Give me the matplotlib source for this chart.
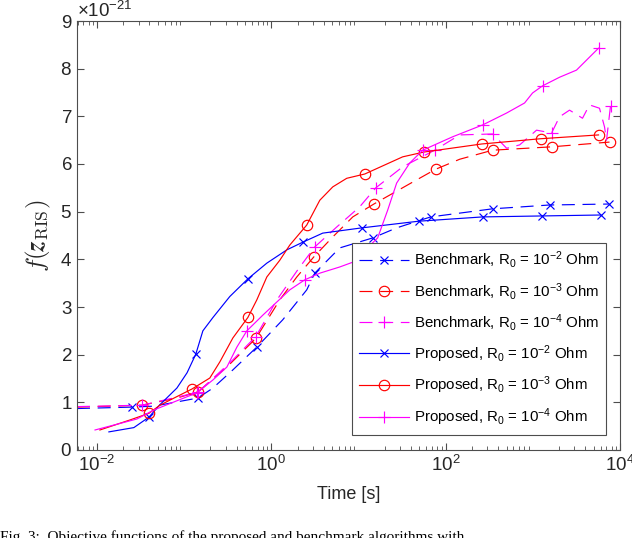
import matplotlib
matplotlib.use("Agg")
import matplotlib.pyplot as plt
import numpy as np

plt.rcParams['font.family'] = ['Liberation Sans', 'DejaVu Sans']
plt.rcParams['mathtext.fontset'] = 'custom'
plt.rcParams['mathtext.rm'] = 'Liberation Sans'
plt.rcParams['mathtext.it'] = 'Liberation Sans:italic'
plt.rcParams['mathtext.bf'] = 'Liberation Sans:bold'
plt.rcParams['axes.unicode_minus'] = False

SCALE = 1e-21

# ---- data (time in s, objective in units of 1e-21) ----
bench2_t = [0.0059, 0.0252, 0.045, 0.144, 0.214, 0.362, 0.682, 1.35, 2.55, 3.15, 6.10, 14.6, 27.4, 67.3, 346, 1556, 7383]
bench2_v = [0.87, 0.90, 0.92, 1.09, 1.30, 1.68, 2.16, 2.73, 3.36, 3.71, 4.24, 4.45, 4.66, 4.89, 5.06, 5.14, 5.16]
bench2_m = [1, 3, 6, 9, 11, 13, 14, 15, 16]

bench3_t = [0.0059, 0.0328, 0.0826, 0.144, 0.309, 0.664, 1.25, 1.96, 3.07, 5.07, 8.60, 15.0, 40.0, 76.8, 145, 346, 1641, 7580]
bench3_v = [0.90, 0.94, 1.09, 1.22, 1.74, 2.34, 3.15, 3.63, 4.05, 4.47, 4.89, 5.16, 5.60, 5.89, 6.10, 6.29, 6.36, 6.46]
bench3_m = [1, 3, 5, 8, 11, 13, 15, 16, 17]

bench4_t = [0.0059, 0.0328, 0.144, 0.362, 0.664, 1.16, 2.01, 3.15, 5.64, 10.3, 15.8, 32.1, 74.8, 145, 346, 501, 705, 1104, 1641, 2025, 2637, 3714, 4467, 5818, 6642, 7006, 7785]
bench4_v = [0.91, 0.94, 1.21, 1.89, 2.38, 3.15, 3.78, 4.26, 4.68, 5.10, 5.50, 5.94, 6.29, 6.61, 6.63, 6.33, 6.40, 6.71, 6.65, 6.99, 7.13, 6.96, 7.24, 7.17, 6.78, 6.50, 7.22]
bench4_m = [1, 2, 4, 7, 10, 12, 14, 18, 26]

prop2_t = [0.0137, 0.0265, 0.0395, 0.0527, 0.0826, 0.108, 0.136, 0.164, 0.214, 0.334, 0.538, 0.888, 1.51, 2.30, 3.89, 10.9, 49.1, 266, 1259, 5979]
prop2_v = [0.38, 0.47, 0.69, 0.95, 1.30, 1.62, 2.01, 2.50, 2.78, 3.22, 3.59, 3.92, 4.20, 4.36, 4.55, 4.66, 4.80, 4.89, 4.91, 4.93]
prop2_m = [2, 6, 10, 13, 15, 16, 17, 18, 19]

prop3_t = [0.0108, 0.0239, 0.0395, 0.0527, 0.123, 0.197, 0.257, 0.362, 0.538, 0.682, 0.888, 1.25, 1.63, 2.55, 3.60, 5.07, 7.33, 11.8, 32.1, 56.0, 259, 1227, 5672]
prop3_v = [0.42, 0.63, 0.77, 0.94, 1.28, 1.51, 1.85, 2.35, 2.78, 3.15, 3.63, 3.98, 4.30, 4.72, 5.24, 5.52, 5.70, 5.79, 6.15, 6.25, 6.42, 6.53, 6.61]
prop3_m = [2, 4, 8, 13, 17, 19, 20, 21, 22]

prop4_t = [0.0095, 0.0287, 0.045, 0.140, 0.214, 0.309, 0.403, 0.524, 0.800, 1.63, 2.42, 3.60, 6.10, 8.60, 16.6, 21.6, 27.4, 38.7, 54.5, 120, 266, 501, 804, 993, 1294, 2025, 3171, 5672]
prop4_v = [0.42, 0.65, 0.84, 1.20, 1.47, 1.74, 2.16, 2.50, 2.83, 3.36, 3.57, 3.71, 3.84, 3.94, 4.45, 5.03, 5.60, 6.02, 6.29, 6.57, 6.82, 7.07, 7.28, 7.49, 7.64, 7.82, 7.97, 8.43]
prop4_m = [3, 7, 10, 18, 20, 24, 27]

labels = [
    r'Benchmark, R$_0$ = 10$^{-2}$ Ohm',
    r'Benchmark, R$_0$ = 10$^{-3}$ Ohm',
    r'Benchmark, R$_0$ = 10$^{-4}$ Ohm',
    r'Proposed, R$_0$ = 10$^{-2}$ Ohm',
    r'Proposed, R$_0$ = 10$^{-3}$ Ohm',
    r'Proposed, R$_0$ = 10$^{-4}$ Ohm',
]
caption = 'Fig. 3:  Objective functions of the proposed and benchmark algorithms with'

BLUE, RED, MAG = '#0000FF', '#FF0000', '#FF00FF'

fig = plt.figure(figsize=(6.32, 5.38), dpi=100)
ax = fig.add_axes([77/632, 88/538, 543/632, 429/538])

dash = (0, (11, 6.5))
lw = 0.85
series = [
    (bench2_t, bench2_v, bench2_m, BLUE, 'x', dash),
    (bench3_t, bench3_v, bench3_m, RED, 'o', dash),
    (bench4_t, bench4_v, bench4_m, MAG, '+', dash),
    (prop2_t, prop2_v, prop2_m, BLUE, 'x', '-'),
    (prop3_t, prop3_v, prop3_m, RED, 'o', '-'),
    (prop4_t, prop4_v, prop4_m, MAG, '+', '-'),
]
msizes = {'o': 7.5, 'x': 5.5, '+': 8}
for (t, v, m, c, mk, ls), lab in zip(series, labels):
    ax.plot(t, np.array(v) * SCALE, color=c, linestyle=ls, lw=lw,
            marker=mk, markevery=m, markersize=msizes[mk], markerfacecolor='none',
            markeredgecolor=c, markeredgewidth=0.85, label=lab)

ax.set_xscale('log')
ax.set_xlim(0.0059, 1e4)
ax.set_ylim(0, 9e-21)
ax.set_yticks(np.arange(0, 10) * SCALE)
ax.ticklabel_format(axis='y', style='sci', scilimits=(0, 0), useMathText=True)
ax.yaxis.get_offset_text().set_fontsize(13.5)
ax.yaxis.get_offset_text().set_color('#262626')
ax.set_xticks([1e-2, 1e0, 1e2, 1e4])

gray = '#262626'
for sp in ax.spines.values():
    sp.set_color('#4d4d4d')
    sp.set_linewidth(0.8)
ax.tick_params(which='both', direction='in', top=True, right=True, colors='#4d4d4d',
               labelcolor=gray, labelsize=13.5)
ax.tick_params(which='major', length=5, width=0.8)
ax.tick_params(which='minor', length=3, width=0.6)

ax.set_xlabel('Time [s]', fontsize=13, color=gray, labelpad=8)
ylab = ax.set_ylabel(r'$f(\boldsymbol{z}_{\mathrm{RIS}})$', fontsize=18, color=gray, labelpad=5)
ylab.set_math_fontfamily('cm')

leg = ax.legend(loc='lower right', bbox_to_anchor=((606-77)/543, (450-435)/429),
                fontsize=10.8, frameon=True,
                fancybox=False, edgecolor='#4d4d4d', framealpha=1,
                handlelength=3.3, handletextpad=0.35, labelspacing=0.68,
                borderpad=0.45, borderaxespad=0)
leg.get_frame().set_linewidth(0.8)

fig.text(0.0, -3/538, caption,
         fontfamily='Liberation Serif', fontsize=11, va='baseline', ha='left', color='black')

fig.savefig('out.png', dpi=100)
